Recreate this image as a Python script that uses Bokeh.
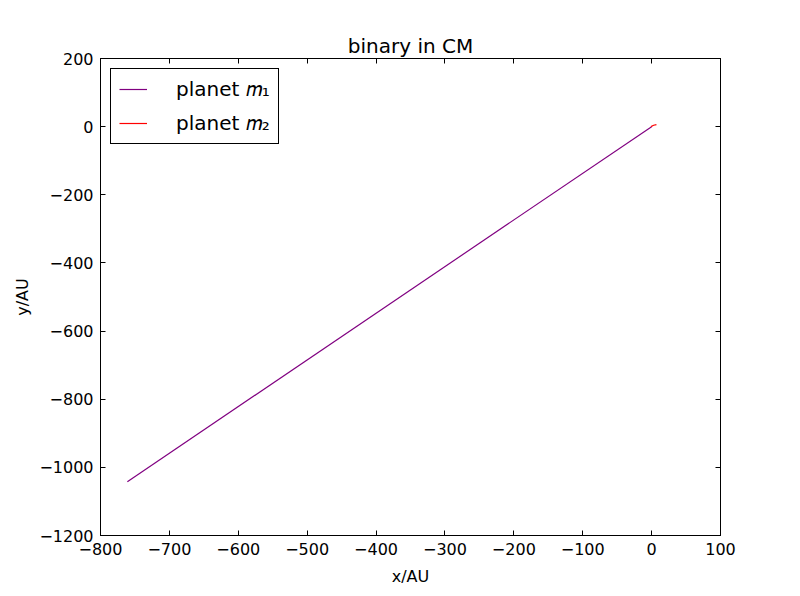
from bokeh.plotting import figure
from bokeh.models import Range1d, LinearAxis, FixedTicker, Legend, LegendItem
from bokeh.embed import file_html
from bokeh.resources import INLINE

# data
m1_x = [-761, 0]
m1_y = [-1042, 0]
m2_x = [-1, 3, 7]
m2_y = [0, 4, 6]
x_ticks = [-800, -700, -600, -500, -400, -300, -200, -100, 0, 100]
y_ticks = [-1200, -1000, -800, -600, -400, -200, 0, 200]

FONT = "DejaVu Sans"

p = figure(output_backend="svg", toolbar_location=None,
           frame_width=620, frame_height=477,
           min_border_left=100, min_border_right=64,
           min_border_top=58, min_border_bottom=56,
           x_range=Range1d(-800, 100), y_range=Range1d(-1200, 200),
           title="binary in CM")
p.width = 784
p.height = 591
p.background_fill_color = "white"
p.border_fill_color = "white"
p.outline_line_color = "black"
p.outline_line_width = 1
p.xgrid.visible = False
p.ygrid.visible = False

p.title.align = "center"
p.title.text_font = FONT
p.title.text_font_size = "20px"
p.title.text_font_style = "normal"
p.title.text_color = "black"
p.title.offset = 0
p.title.standoff = 2

r1 = p.line(m1_x, m1_y, line_color="purple", line_width=1.2)
r2 = p.line(m2_x, m2_y, line_color="red", line_width=1.2)

def style_axis(ax, labels=True):
    ax.major_tick_in = 5
    ax.major_tick_out = 0
    ax.minor_tick_in = 0
    ax.minor_tick_out = 0
    ax.axis_line_color = "black"
    ax.major_tick_line_color = "black"
    ax.major_label_text_font = FONT
    ax.major_label_text_font_size = "16px"
    ax.major_label_text_color = "black"
    ax.axis_label_text_font = FONT
    ax.axis_label_text_font_size = "16px"
    ax.axis_label_text_font_style = "normal"
    ax.axis_label_text_color = "black"
    if not labels:
        ax.major_label_text_font_size = "0px"
        ax.major_label_text_alpha = 0

xa = p.xaxis[0]
ya = p.yaxis[0]
xa.ticker = FixedTicker(ticks=x_ticks)
ya.ticker = FixedTicker(ticks=y_ticks)
style_axis(xa)
style_axis(ya)
xa.axis_label = "x/AU"
ya.axis_label = "y/AU"
xa.major_label_standoff = 7
ya.major_label_standoff = 7
xa.axis_label_standoff = 9
ya.axis_label_standoff = 4

top = LinearAxis(ticker=FixedTicker(ticks=x_ticks))
style_axis(top, labels=False)
p.add_layout(top, "above")
right = LinearAxis(ticker=FixedTicker(ticks=y_ticks))
style_axis(right, labels=False)
p.add_layout(right, "right")

legend = Legend(items=[LegendItem(label="planet 𝑚₁", renderers=[r1]),
                       LegendItem(label="planet 𝑚₂", renderers=[r2])],
                location="top_left")
legend.margin = 10
legend.padding = 8
legend.spacing = 10
legend.glyph_width = 28
legend.glyph_height = 10
legend.label_height = 10
legend.label_standoff = 29
legend.label_text_font = FONT
legend.label_text_font_size = "20px"
legend.label_text_color = "black"
legend.border_line_color = "black"
legend.border_line_width = 1
legend.border_line_alpha = 1
legend.background_fill_color = "white"
legend.background_fill_alpha = 1
p.add_layout(legend, "center")

open("out.html", "w").write(file_html(p, INLINE))
